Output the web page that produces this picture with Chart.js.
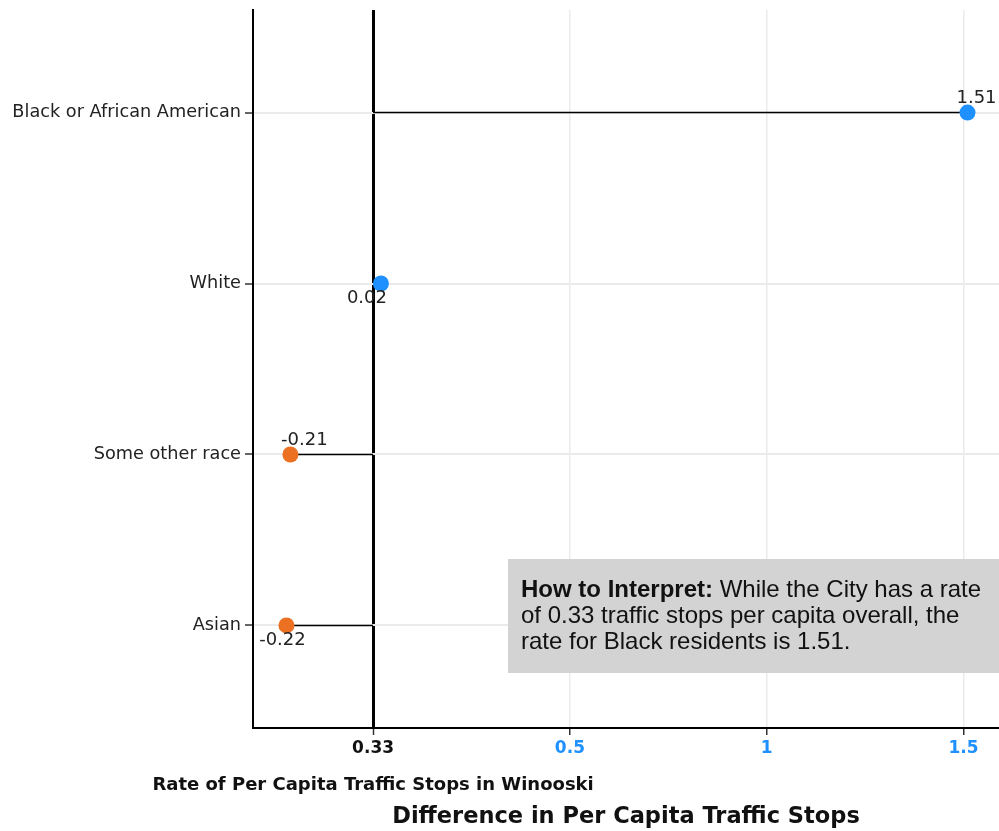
<!doctype html>
<html>
<head>
<title>Per capita traffic stops</title>
<script src="https://cdn.jsdelivr.net/npm/chart.js@4"></script>
<style>
  html, body { margin: 0; padding: 0; background: #fff; }
  .holder { width: 999px; height: 831px; position: relative; }
</style>
</head>
<body>
<div class="holder"><canvas id="chart-area"></canvas></div>
<script>
// categories top to bottom
var races = ['Black or African American', 'White', 'Some other race', 'Asian'];
// difference from the city rate (0.33)
var diffs = [1.51, 0.02, -0.21, -0.22];
var cityRate = 0.33;
// x tick positions (difference) and their labels
var xTicks = [0, 0.5, 1, 1.5];
var xTickLabels = ['0.33', '0.5', '1', '1.5'];

var blue = '#1E90FF';
var orange = '#EC7022';
// where the value label sits relative to its point (px)
var labelOffsets = [[9, -14], [-14, 15], [14, -14], [-4, 15]];

var lineSets = diffs.map(function (v, i) {
  return {
    type: 'line',
    data: [{ x: 0, y: i + 1 }, { x: v, y: i + 1 }],
    borderColor: '#000',
    borderWidth: 1.4,
    pointRadius: 0,
    order: 2
  };
});

var pointSet = {
  type: 'scatter',
  data: diffs.map(function (v, i) { return { x: v, y: i + 1 }; }),
  backgroundColor: diffs.map(function (v) { return v >= 0 ? blue : orange; }),
  borderWidth: 0,
  pointRadius: 8,
  order: 0
};

var extras = {
  id: 'extras',
  afterDatasetsDraw: function (chart) {
    var c = chart.ctx, xs = chart.scales.x, ys = chart.scales.y;
    c.save();
    // value labels
    c.font = '18px "DejaVu Sans"';
    c.fillStyle = '#222';
    c.textAlign = 'center';
    c.textBaseline = 'middle';
    diffs.forEach(function (v, i) {
      var px = xs.getPixelForValue(v), py = ys.getPixelForValue(i + 1);
      c.fillText(v.toFixed(2), px + labelOffsets[i][0], py + labelOffsets[i][1]);
    });
    c.restore();
  },
  afterDraw: function (chart) {
    var c = chart.ctx, xs = chart.scales.x;
    c.save();
    // sub label under the city rate tick
    c.font = 'bold 18px "DejaVu Sans"';
    c.fillStyle = '#111';
    c.textAlign = 'center';
    c.textBaseline = 'middle';
    c.fillText('Rate of Per Capita Traffic Stops in Winooski', xs.getPixelForValue(0), 785);

    // interpretation box
    c.fillStyle = '#d3d3d3';
    c.fillRect(508, 559, 491, 114);
    c.fillStyle = '#111';
    c.textAlign = 'left';
    c.textBaseline = 'alphabetic';
    var x0 = 521;
    c.font = 'bold 24px "Liberation Sans"';
    var head = 'How to Interpret:';
    c.fillText(head, x0, 597);
    var w = c.measureText(head + ' ').width;
    c.font = '24px "Liberation Sans"';
    c.fillText('While the City has a rate', x0 + w, 597);
    c.fillText('of ' + cityRate + ' traffic stops per capita overall, the', x0, 623);
    c.fillText('rate for Black residents is ' + diffs[0] + '.', x0, 649);
    c.restore();
  }
};

var ctx = document.getElementById('chart-area').getContext('2d');
var chart = new Chart(ctx, {
  data: { datasets: [pointSet].concat(lineSets) },
  options: {
    responsive: true,
    maintainAspectRatio: false,
    animation: false,
    layout: { autoPadding: false, padding: { top: 10, right: 0, left: 0, bottom: 0 } },
    plugins: { legend: { display: false }, tooltip: { enabled: false } },
    scales: {
      x: {
        type: 'linear',
        min: -0.305,
        max: 1.59,
        afterBuildTicks: function (s) { s.ticks = xTicks.map(function (v) { return { value: v }; }); },
        afterFit: function (s) { s.height = 103; s.paddingLeft = 0; s.paddingRight = 0; },
        grid: {
          color: function (c) { return c.tick && c.tick.value === 0 ? '#000' : '#ebebeb'; },
          lineWidth: function (c) { return c.tick && c.tick.value === 0 ? 3 : 1.5; },
          tickColor: '#333',
          tickWidth: 1.5,
          tickLength: 7
        },
        border: { color: '#000', width: 2 },
        ticks: {
          padding: 3,
          font: { family: 'DejaVu Sans', size: 17, weight: 'bold' },
          color: function (c) { return c.tick.value === 0 ? '#111' : blue; },
          callback: function (v) { return xTickLabels[xTicks.indexOf(v)]; }
        },
        title: {
          display: true,
          text: 'Difference in Per Capita Traffic Stops',
          font: { family: 'DejaVu Sans', size: 22.5, weight: 'bold' },
          color: '#111',
          padding: { top: 40, bottom: 0 }
        }
      },
      y: {
        type: 'linear',
        reverse: true,
        min: 0.4,
        max: 4.6,
        afterBuildTicks: function (s) { s.ticks = races.map(function (r, i) { return { value: i + 1 }; }); },
        afterFit: function (s) { s.width = 253; s.paddingTop = 0; s.paddingBottom = 0; },
        grid: {
          color: '#ebebeb',
          lineWidth: 2,
          tickColor: '#333',
          tickWidth: 1.5,
          tickLength: 8
        },
        border: { color: '#000', width: 2 },
        ticks: {
          padding: 4,
          font: { family: 'DejaVu Sans', size: 17.7 },
          color: '#222',
          callback: function (v) { return races[v - 1]; }
        }
      }
    }
  },
  plugins: [extras]
});
</script>
</body>
</html>
